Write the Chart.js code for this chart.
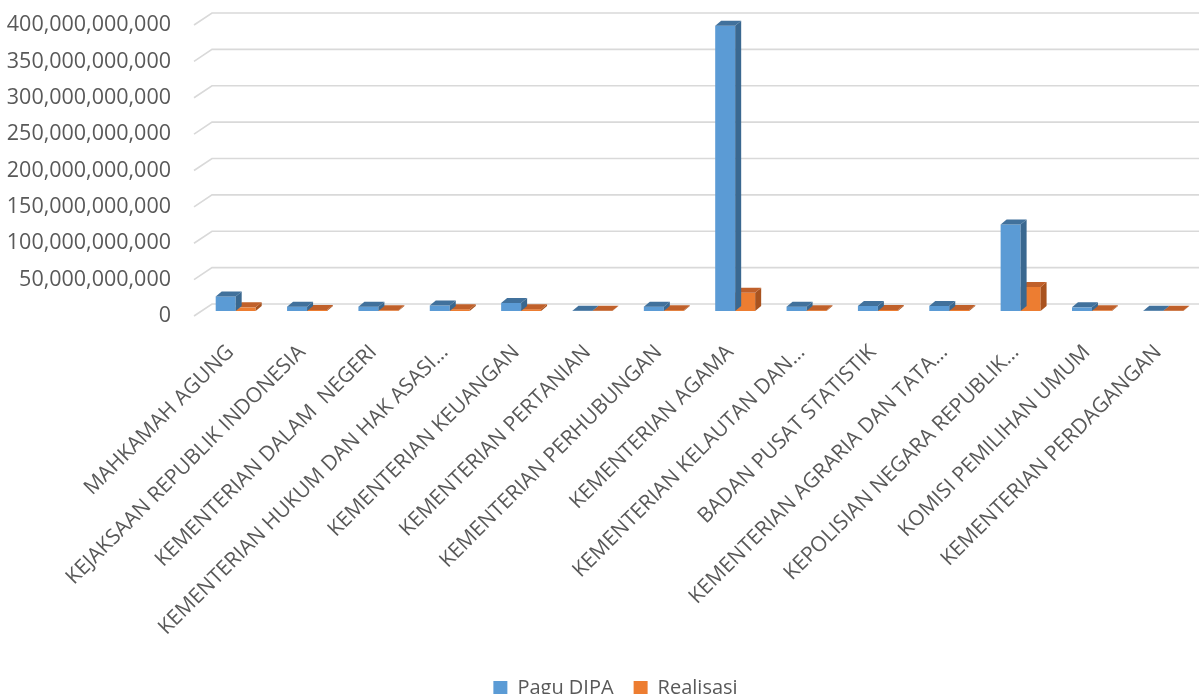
<!DOCTYPE html>
<html>
<head>
<meta charset="utf-8">
<script src="https://cdn.jsdelivr.net/npm/chart.js@4.4.1/dist/chart.umd.min.js"></script>
<style>
  html, body { margin: 0; padding: 0; background: #ffffff; }
  #wrap { width: 1199px; height: 694px; position: relative; }
</style>
</head>
<body>
<div id="wrap"><canvas id="c" width="1199" height="694"></canvas></div>
<script>
const categories = [
  "MAHKAMAH AGUNG",
  "KEJAKSAAN REPUBLIK INDONESIA",
  "KEMENTERIAN DALAM  NEGERI",
  "KEMENTERIAN HUKUM DAN HAK ASASI…",
  "KEMENTERIAN KEUANGAN",
  "KEMENTERIAN PERTANIAN",
  "KEMENTERIAN PERHUBUNGAN",
  "KEMENTERIAN AGAMA",
  "KEMENTERIAN KELAUTAN DAN…",
  "BADAN PUSAT STATISTIK",
  "KEMENTERIAN AGRARIA DAN TATA…",
  "KEPOLISIAN NEGARA REPUBLIK…",
  "KOMISI PEMILIHAN UMUM",
  "KEMENTERIAN PERDAGANGAN"
];
const paguDIPA = [20e9, 6e9, 6e9, 7.5e9, 11e9, 0.5e9, 6e9, 392e9, 6e9, 7e9, 7e9, 119e9, 5e9, 0.4e9];
const realisasi = [5e9, 1.5e9, 1e9, 2.5e9, 2.5e9, 0.4e9, 1.2e9, 25e9, 1.2e9, 1.5e9, 1.5e9, 33e9, 1e9, 0.4e9];
const yTicks = [0, 50e9, 100e9, 150e9, 200e9, 250e9, 300e9, 350e9, 400e9];

const faceColors = [
  { front: "#5B9BD5", top: "#41719C", side: "#3A6890" },
  { front: "#ED7D31", top: "#C0602A", side: "#A9531F" }
];
const DEPTH_X = 6, DEPTH_Y = 5, BAR_SHIFT_Y = -5;
const LEGEND_SHIFT_Y = 14, LEGEND_SHIFT_X = 16;

const threeD = {
  id: "threeD",
  afterLayout(chart) {
    const lg = chart.legend;
    if (lg) {
      lg.top += LEGEND_SHIFT_Y; lg.bottom += LEGEND_SHIFT_Y;
      lg.left += LEGEND_SHIFT_X; lg.right += LEGEND_SHIFT_X;
    }
  },
  beforeDatasetsDraw(chart) {
    const ctx = chart.ctx, ys = chart.scales.y, area = chart.chartArea;
    ctx.save();
    ctx.strokeStyle = "#D9D9D9";
    ctx.lineWidth = 1.6;
    yTicks.forEach(v => {
      const y = ys.getPixelForValue(v);
      ctx.beginPath();
      ctx.moveTo(area.left - 6, y);
      ctx.lineTo(area.left + 12, y - 12);
      ctx.lineTo(area.right, y - 12);
      ctx.stroke();
    });
    ctx.restore();
  },
  beforeDatasetDraw(chart) {
    chart.ctx.save();
    chart.ctx.translate(0, BAR_SHIFT_Y);
  },
  afterDatasetDraw(chart, args) {
    const ctx = chart.ctx;
    const col = faceColors[args.index];
    args.meta.data.forEach(bar => {
      const p = bar.getProps(["x", "y", "base", "width"], true);
      const l = p.x - p.width / 2, r = p.x + p.width / 2;
      const top = Math.min(p.y, p.base), bot = Math.max(p.y, p.base);
      ctx.fillStyle = col.side;
      ctx.beginPath();
      ctx.moveTo(r, top);
      ctx.lineTo(r + DEPTH_X, top - DEPTH_Y);
      ctx.lineTo(r + DEPTH_X, bot - DEPTH_Y);
      ctx.lineTo(r, bot);
      ctx.closePath();
      ctx.fill();
      ctx.fillStyle = col.top;
      ctx.beginPath();
      ctx.moveTo(l, top);
      ctx.lineTo(l + DEPTH_X, top - DEPTH_Y);
      ctx.lineTo(r + DEPTH_X, top - DEPTH_Y);
      ctx.lineTo(r, top);
      ctx.closePath();
      ctx.fill();
    });
    ctx.restore();
  }
};

const FONT = "'Open Sans', 'DejaVu Sans', sans-serif";

new Chart(document.getElementById("c"), {
  type: "bar",
  data: {
    labels: categories,
    datasets: [
      { label: "Pagu DIPA", data: paguDIPA, backgroundColor: faceColors[0].front, borderWidth: 0 },
      { label: "Realisasi", data: realisasi, backgroundColor: faceColors[1].front, borderWidth: 0 }
    ]
  },
  options: {
    responsive: false,
    animation: false,
    devicePixelRatio: 1,
    layout: { padding: { top: 25, right: 0, left: 0, bottom: 0 } },
    datasets: { bar: { categoryPercentage: 0.56, barPercentage: 1.0 } },
    plugins: {
      legend: {
        position: "bottom",
        labels: {
          font: { family: FONT, size: 20 },
          color: "#595959",
          boxWidth: 14,
          boxHeight: 14,
          padding: 20
        }
      },
      tooltip: { enabled: false }
    },
    scales: {
      x: {
        grid: { display: false, drawTicks: false },
        border: { display: false },
        ticks: {
          autoSkip: false,
          minRotation: 45,
          maxRotation: 45,
          padding: 24,
          labelOffset: -5,
          font: { family: FONT, size: 21 },
          color: "#595959"
        },
        afterFit(scale) {
          scale.height = 328;
          scale.paddingLeft = 0;
          scale.paddingRight = 0;
        }
      },
      y: {
        min: 0,
        max: 400e9,
        grid: { display: false, drawTicks: false },
        border: { display: false },
        ticks: {
          stepSize: 50e9,
          padding: 29,
          font: { family: FONT, size: 21.5 },
          color: "#595959",
          callback: v => v.toLocaleString("en-US")
        },
        afterFit(scale) {
          scale.width = 200;
          scale.paddingTop = 0;
          scale.paddingBottom = 0;
        }
      }
    }
  },
  plugins: [threeD]
});
</script>
</body>
</html>
